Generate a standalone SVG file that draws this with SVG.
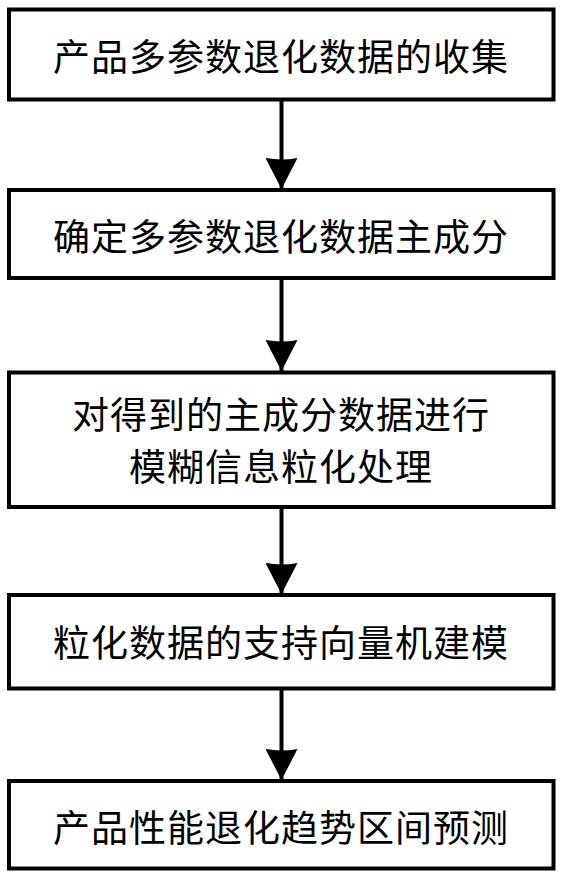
<svg xmlns="http://www.w3.org/2000/svg" width="568" height="886" viewBox="0 0 568 886">
<style>
.box{fill:#fff;stroke:#000;stroke-width:4}
.t{font-family:"Noto Sans CJK SC","Noto Sans CJK JP",sans-serif;font-size:37px;letter-spacing:1px;fill:#000;text-anchor:middle;dominant-baseline:central}
.ln{stroke:#000;stroke-width:4;fill:none}
</style>
<defs>
<marker id="ah" markerUnits="userSpaceOnUse" markerWidth="32" markerHeight="32" refX="31" refY="16" orient="auto" viewBox="0 0 32 32">
<path d="M0,0 Q3,16 0,32 L31,16 Z" fill="#000"/>
</marker>
</defs>
<rect width="568" height="886" fill="#fff"/>
<g id="n1"><rect class="box" x="9" y="9.5" width="544.5" height="90"/><text class="t" x="281" y="55">产品多参数退化数据的收集</text></g>
<g id="n2"><rect class="box" x="9" y="190" width="544.5" height="88"/><text class="t" x="281" y="235">确定多参数退化数据主成分</text></g>
<g id="n3"><rect class="box" x="9" y="372.5" width="544.5" height="134.5"/><text class="t" x="281" y="413">对得到的主成分数据进行</text><text class="t" x="281" y="465">模糊信息粒化处理</text></g>
<g id="n4"><rect class="box" x="9" y="595" width="544.5" height="93.5"/><text class="t" x="281" y="641">粒化数据的支持向量机建模</text></g>
<g id="n5"><rect class="box" x="9" y="781" width="544.5" height="87.5"/><text class="t" x="281" y="826">产品性能退化趋势区间预测</text></g>
<g id="connectors">
<line class="ln" x1="281.5" y1="101" x2="281.5" y2="189" marker-end="url(#ah)"/>
<line class="ln" x1="281.5" y1="279" x2="281.5" y2="371" marker-end="url(#ah)"/>
<line class="ln" x1="281.5" y1="508" x2="281.5" y2="594" marker-end="url(#ah)"/>
<line class="ln" x1="281.5" y1="690" x2="281.5" y2="780" marker-end="url(#ah)"/>
</g>
</svg>
